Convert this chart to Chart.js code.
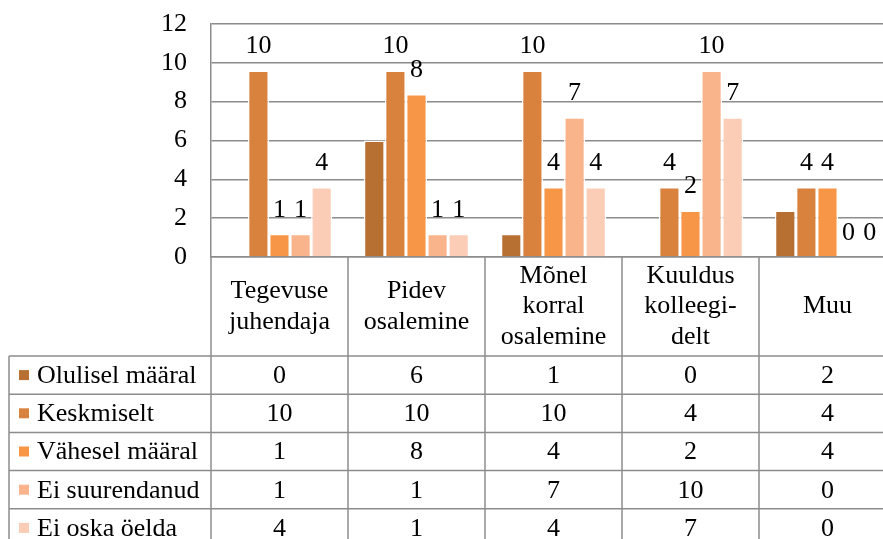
<!DOCTYPE html>
<html>
<head>
<meta charset="utf-8">
<script src="https://cdn.jsdelivr.net/npm/chart.js@4"></script>
<style>
  html, body { margin: 0; padding: 0; background: #fff; overflow: hidden; }
  #myChart { display: block; }
</style>
</head>
<body>
<canvas id="myChart" width="900" height="539"></canvas>
<script>
// categories (header cells of the data table)
var kategooriad = [
    ["Tegevuse", "juhendaja"],
    ["Pidev", "osalemine"],
    ["Mõnel", "korral", "osalemine"],
    ["Kuuldus", "kolleegi-", "delt"],
    ["Muu"]
];

var seeriad = ["Olulisel määral", "Keskmiselt", "Vähesel määral", "Ei suurendanud", "Ei oska öelda"];

// bar heights (labels and table show them rounded)
var olulisel = [0, 6.0, 1.2, 0, 2.4];
var keskmiselt = [9.6, 9.6, 9.6, 3.6, 3.6];
var vahesel = [1.2, 8.4, 3.6, 2.4, 3.6];
var eiSuurendanud = [1.2, 1.2, 7.2, 9.6, 0];
var eiOska = [3.6, 1.2, 3.6, 7.2, 0];

var yTicks = [0, 2, 4, 6, 8, 10, 12];

var varvid = ["#B86F32", "#D9823E", "#F79646", "#F9B48C", "#FBCDB6"];
var joon = "#8c8c8c";
var font = '"Liberation Serif", "Times New Roman", serif';

var tabeliAlgus = 257;   // x-axis line
var pais = 99;           // header row height
var rida = 38.2;         // table row height
var vasak = 9;           // left edge of the row label column

var tabel = {
    id: 'tabel',
    afterDatasetsDraw: function (chart) {
        var ctx = chart.ctx;
        // data labels (first series has none, like in the original)
        ctx.save();
        ctx.fillStyle = "#000";
        ctx.font = "26px " + font;
        ctx.textAlign = "center";
        ctx.textBaseline = "middle";
        for (var d = 1; d < chart.data.datasets.length; d++) {
            var meta = chart.getDatasetMeta(d);
            meta.data.forEach(function (bar, i) {
                var v = chart.data.datasets[d].data[i];
                ctx.fillText(String(Math.round(v)), bar.x, bar.y - 24);
            });
        }
        ctx.restore();
    },
    afterDraw: function (chart) {
        var ctx = chart.ctx;
        var x = chart.scales.x;
        var n = kategooriad.length;
        var w = (x.right - x.left) / n;
        var alla = tabeliAlgus + pais + rida * seeriad.length;

        ctx.save();
        ctx.strokeStyle = joon;
        ctx.lineWidth = 1.5;

        // vertical lines of the header + table
        for (var i = 0; i <= n; i++) {
            var px = x.getPixelForValue(0) - w / 2 + i * w;
            ctx.beginPath();
            ctx.moveTo(px, tabeliAlgus);
            ctx.lineTo(px, alla);
            ctx.stroke();
        }
        // left border of label column
        ctx.beginPath();
        ctx.moveTo(vasak, tabeliAlgus + pais);
        ctx.lineTo(vasak, alla);
        ctx.stroke();
        // horizontal row lines
        for (var r = 0; r <= seeriad.length; r++) {
            var py = tabeliAlgus + pais + r * rida;
            ctx.beginPath();
            ctx.moveTo(vasak, py);
            ctx.lineTo(x.right + 10, py);
            ctx.stroke();
        }

        ctx.fillStyle = "#000";
        ctx.font = "26px " + font;
        ctx.textAlign = "center";
        ctx.textBaseline = "middle";
        // header labels
        kategooriad.forEach(function (lab, i) {
            var cx = x.getPixelForValue(i);
            var lh = 30.5;
            var y0 = tabeliAlgus + pais / 2 - (lab.length - 1) * lh / 2;
            lab.forEach(function (t, k) {
                ctx.fillText(t, cx, y0 + k * lh);
            });
        });

        // rows: legend key, name, values
        chart.data.datasets.forEach(function (ds, r) {
            var cy = tabeliAlgus + pais + r * rida + rida / 2;
            ctx.fillStyle = ds.backgroundColor;
            ctx.fillRect(19, cy - 5, 10, 10);
            ctx.fillStyle = "#000";
            ctx.textAlign = "left";
            ctx.fillText(ds.label, 37, cy + 1);
            ctx.textAlign = "center";
            ds.data.forEach(function (v, i) {
                ctx.fillText(String(Math.round(v)), x.getPixelForValue(i), cy + 1);
            });
        });
        ctx.restore();
    }
};

const ctx = document.getElementById('myChart');
var andmed = [olulisel, keskmiselt, vahesel, eiSuurendanud, eiOska];

var chart = new Chart(ctx, {
    type: 'bar',
    data: {
        labels: kategooriad.map(function (k) { return k.join(" "); }),
        datasets: seeriad.map(function (nimi, i) {
            return {
                label: nimi,
                data: andmed[i],
                backgroundColor: varvid[i],
                borderColor: "#ffffff",
                borderWidth: 1.5,
                categoryPercentage: 0.77,
                barPercentage: 1.0
            };
        })
    },
    options: {
        responsive: false,
        animation: false,
        devicePixelRatio: 1,
        layout: { padding: { top: 24, left: 0, right: 4, bottom: 282 } },
        plugins: {
            legend: { display: false },
            tooltip: { enabled: false }
        },
        scales: {
            x: {
                grid: { display: false, drawTicks: false },
                border: { display: true, color: joon, width: 1.5 },
                ticks: { display: false }
            },
            y: {
                min: 0,
                max: 12,
                afterBuildTicks: function (s) {
                    s.ticks = yTicks.map(function (v) { return { value: v }; });
                },
                afterFit: function (s) {
                    s.width = 211;
                    s.paddingTop = 0;
                    s.paddingBottom = 0;
                },
                grid: { color: joon, lineWidth: 1.5, drawTicks: false },
                border: { display: true, color: joon, width: 1.5 },
                ticks: {
                    color: "#000",
                    padding: 24,
                    font: { family: font, size: 26 }
                }
            }
        }
    },
    plugins: [tabel]
});
</script>
</body>
</html>
